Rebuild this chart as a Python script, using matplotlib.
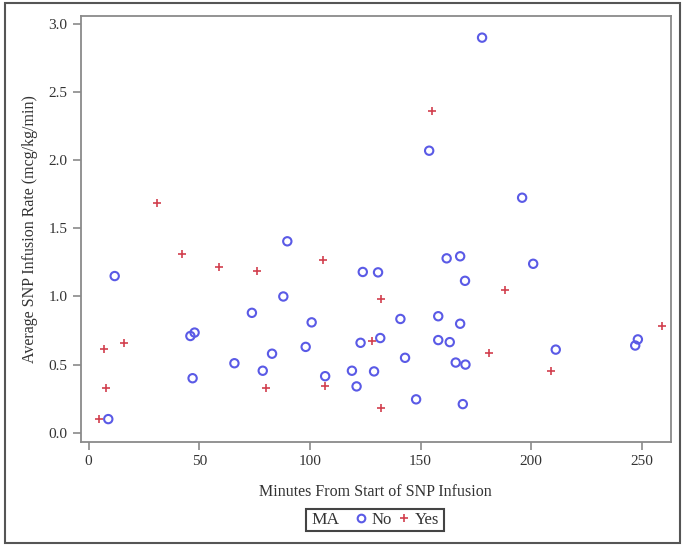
import matplotlib.pyplot as plt
from matplotlib.lines import Line2D
from matplotlib.patches import Rectangle

# MA = No
no_min = [8.9, 11.8, 46.0, 47.9, 47.0, 65.9, 73.8, 78.7, 82.9, 88.0, 89.8,
          98.1, 100.8, 106.9, 119.0, 121.1, 122.9, 123.9, 129.0, 130.8, 131.8,
          140.9, 143.0, 148.0, 153.9, 158.0, 158.0, 161.8, 163.2, 165.9, 167.9,
          167.9, 169.1, 170.1, 170.3, 177.8, 195.9, 200.9, 211.1, 247.0, 248.2]
no_rate = [0.10, 1.15, 0.71, 0.735, 0.40, 0.51, 0.88, 0.455, 0.58, 1.00, 1.405,
           0.63, 0.81, 0.415, 0.455, 0.34, 0.66, 1.18, 0.45, 1.177, 0.695,
           0.835, 0.55, 0.245, 2.07, 0.855, 0.68, 1.28, 0.665, 0.515, 1.295,
           0.80, 0.21, 1.115, 0.50, 2.90, 1.725, 1.24, 0.61, 0.64, 0.685]

# MA = Yes
yes_min = [4.9, 6.9, 7.9, 16.0, 31.0, 42.0, 59.0, 76.0, 80.1, 106.0, 106.9,
           128.1, 132.0, 132.0, 155.1, 181.1, 188.2, 209.0, 259.3]
yes_rate = [0.10, 0.615, 0.33, 0.655, 1.685, 1.315, 1.215, 1.19, 0.33, 1.27, 0.345,
            0.675, 0.985, 0.18, 2.36, 0.585, 1.05, 0.455, 0.78]

x_ticks = [0, 50, 100, 150, 200, 250]
y_ticks = [0.0, 0.5, 1.0, 1.5, 2.0, 2.5, 3.0]

blue = '#5a5ae6'
red = '#d2404e'
grey = '#8a8a8a'
text_col = '#333333'

plt.rcParams['font.family'] = ['Liberation Serif', 'DejaVu Serif']

fig = plt.figure(figsize=(6.85, 5.46), dpi=100)
ax = fig.add_axes([0.118, 0.19, 0.861, 0.781])

ax.scatter(no_min, no_rate, s=36, facecolors='none', edgecolors=blue,
           linewidths=1.5, marker='o', zorder=3)
ax.scatter(yes_min, yes_rate, s=40, color=red, linewidths=1.2,
           marker='+', zorder=3)

ax.set_xlim(-3.5, 263)
ax.set_ylim(-0.07, 3.06)
ax.set_xticks(x_ticks)
ax.set_yticks(y_ticks)
ax.set_yticklabels([f'{v:.1f}' for v in y_ticks])

for s in ax.spines.values():
    s.set_color(grey)
    s.set_linewidth(1.3)
ax.tick_params(axis='both', direction='out', length=6, width=1.2, color=grey,
               labelsize=11, labelcolor=text_col)

ax.set_xlabel('Minutes From Start of SNP Infusion', fontsize=11.5,
              color=text_col, labelpad=11)
ax.set_ylabel('Average SNP Infusion Rate (mcg/kg/min)', fontsize=11.5,
              color=text_col, labelpad=8)

# legend: "MA" title inline, then the two groups, in one box
fig.patches.append(Rectangle((306 / 685, 1 - 531 / 546), 138 / 685, 22 / 546,
                             transform=fig.transFigure, fill=False,
                             edgecolor='#444444', linewidth=1.5))
fig.text(311 / 685, 1 - 520 / 546, 'MA', fontsize=12.5, color=text_col,
         ha='left', va='center')
handles = [Line2D([], [], linestyle='none', marker='o', markerfacecolor='none',
                  markeredgecolor=blue, markeredgewidth=1.5, markersize=5.5),
           Line2D([], [], linestyle='none', marker='+', color=red,
                  markeredgewidth=1.2, markersize=6)]
leg = fig.legend(handles, ['No', 'Yes'], ncol=2, loc='center left',
                 bbox_to_anchor=(355 / 685, 1 - 520 / 546), frameon=False,
                 fontsize=12, handlelength=0.7, handletextpad=0.3,
                 columnspacing=0.35, borderpad=0, borderaxespad=0)
for t in leg.get_texts():
    t.set_color(text_col)

fig.patches.append(Rectangle((0.008, 0.006), 0.984, 0.988, transform=fig.transFigure,
                             fill=False, edgecolor='#555555', linewidth=1.5))

fig.savefig('out.png', dpi=100)
